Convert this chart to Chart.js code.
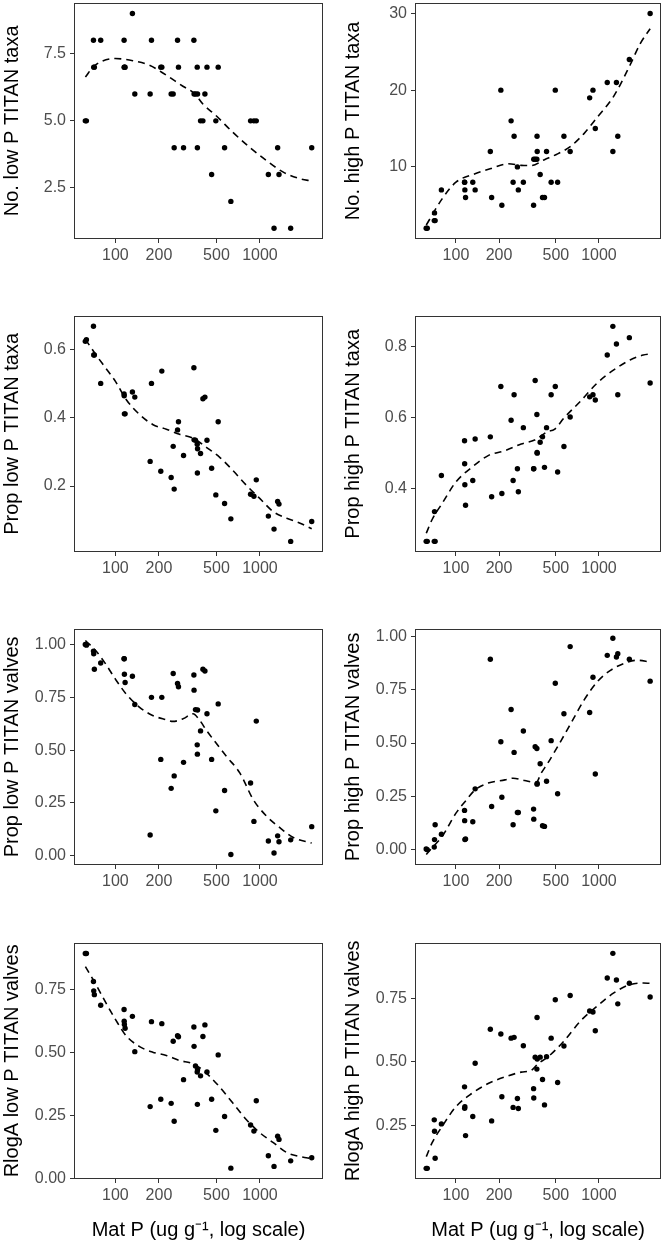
<!DOCTYPE html>
<html>
<head>
<meta charset="utf-8">
<script src="https://cdn.jsdelivr.net/npm/chart.js@4"></script>
<style>
  html, body { margin: 0; padding: 0; background: #ffffff; }
  body { width: 664px; height: 1240px; position: relative; overflow: hidden; }
  canvas { position: absolute; }
</style>
</head>
<body>
<script>
// ---------------- DATA ----------------
// Site Mat P values (ug g-1), shared by all panels
const matP = [61.9, 63.0, 70.5, 70.8, 71.5, 79.1, 114.8, 115, 115.4, 116.7,
  131.1, 136.2, 173.9, 177.6, 206, 209.4, 243, 251, 255, 269,
  273, 296, 349, 350, 358, 368, 369, 370, 388, 403,
  416, 430, 463, 495, 514, 569, 629, 861, 908, 943,
  1143, 1251, 1325, 1354, 1631, 2280];

const noLowTaxa = [5, 5, 8, 7, 7, 8, 8, 7, 7, 7,
  9, 6, 6, 8, 7, 7, 6, 6, 4, 8,
  7, 4, 8, 6, 6, 7, 4, 6, 5, 5,
  6, 7, 3, 5, 7, 4, 2, 5, 5, 5,
  3, 1, 4, 3, 1, 4];

const noHighTaxa = [2, 2, 3, 4, 3, 7, 8, 8, 7, 6,
  8, 7, 12, 6, 20, 5, 16, 8, 14, 10,
  7, 8, 5, 11, 11, 11, 14, 12, 9, 6,
  6, 12, 8, 20, 8, 14, 12, 19, 20, 15,
  21, 12, 21, 14, 24, 30];

const propLowTaxa = [0.623, 0.628, 0.667, 0.583, 0.583, 0.50, 0.469, 0.464, 0.411, 0.411,
  0.475, 0.460, 0.272, 0.50, 0.243, 0.536, 0.225, 0.316, 0.191, 0.364,
  0.388, 0.289, 0.546, 0.335, 0.334, 0.322, 0.238, 0.309, 0.295, 0.455,
  0.46, 0.334, 0.252, 0.174, 0.388, 0.149, 0.104, 0.176, 0.170, 0.218,
  0.112, 0.074, 0.155, 0.147, 0.038, 0.096];

const propHighTaxa = [0.251, 0.251, 0.251, 0.335, 0.251, 0.437, 0.535, 0.470, 0.411, 0.353,
  0.423, 0.540, 0.546, 0.377, 0.688, 0.386, 0.593, 0.423, 0.665, 0.456,
  0.391, 0.572, 0.456, 0.456, 0.705, 0.609, 0.502, 0.50, 0.531, 0.546,
  0.460, 0.572, 0.665, 0.688, 0.447, 0.519, 0.602, 0.659, 0.665, 0.650,
  0.777, 0.858, 0.808, 0.665, 0.826, 0.698];

const propLowValves = [1.0, 0.997, 0.969, 0.956, 0.883, 0.9125, 0.933, 0.933, 0.859, 0.820,
  0.85, 0.716, 0.098, 0.75, 0.456, 0.75, 0.319, 0.8625, 0.378, 0.816,
  0.80, 0.442, 0.856, 0.784, 0.692, 0.525, 0.481, 0.69, 0.591, 0.883,
  0.875, 0.672, 0.456, 0.2125, 0.719, 0.309, 0.006, 0.344, 0.1625, 0.6375,
  0.070, 0.0125, 0.094, 0.066, 0.075, 0.1375];

const propHighValves = [0.003, 0.0, 0.012, 0.047, 0.117, 0.072, 0.184, 0.136, 0.047, 0.05,
  0.131, 0.285, 0.893, 0.202, 0.506, 0.246, 0.657, 0.117, 0.456, 0.174,
  0.174, 0.556, 0.19, 0.143, 0.483, 0.474, 0.307, 0.31, 0.403, 0.112,
  0.109, 0.321, 0.511, 0.780, 0.262, 0.637, 0.952, 0.643, 0.808, 0.355,
  0.911, 0.991, 0.903, 0.919, 0.893, 0.790];

const rlogLowValves = [0.891, 0.891, 0.780, 0.743, 0.728, 0.686, 0.669, 0.623, 0.610, 0.595,
  0.642, 0.502, 0.284, 0.621, 0.313, 0.613, 0.297, 0.543, 0.226, 0.565,
  0.561, 0.391, 0.600, 0.523, 0.445, 0.421, 0.293, 0.43, 0.406, 0.562,
  0.608, 0.421, 0.313, 0.190, 0.489, 0.245, 0.040, 0.211, 0.187, 0.307,
  0.089, 0.047, 0.167, 0.154, 0.069, 0.081];

const rlogHighValves = [0.081, 0.081, 0.272, 0.227, 0.121, 0.256, 0.402, 0.318, 0.324, 0.210,
  0.285, 0.495, 0.629, 0.268, 0.610, 0.363, 0.594, 0.321, 0.597, 0.356,
  0.317, 0.564, 0.395, 0.358, 0.519, 0.472, 0.675, 0.512, 0.519, 0.431,
  0.331, 0.521, 0.594, 0.745, 0.419, 0.563, 0.762, 0.701, 0.697, 0.623,
  0.831, 0.928, 0.823, 0.729, 0.810, 0.756];

// Smoothed (loess) curves
const fitNoLowX = [62, 70.8, 100, 132, 172, 225, 293, 352, 404, 500, 650, 850, 1110, 1450, 1900, 2280];
const fitNoLowY = [6.63, 7.03, 7.32, 7.24, 7.07, 6.70, 6.29, 6.02, 5.62, 5.18, 4.57, 4.01, 3.52, 3.09, 2.84, 2.76];

const fitNoHighX = [62, 80, 100, 136, 177, 232, 286, 336, 416, 514, 630, 786, 973, 1270, 1650, 1940, 2280];
const fitNoHighY = [2.43, 5.83, 8.0, 9.1, 9.8, 10.4, 10.2, 10.17, 10.94, 11.7, 12.64, 14.34, 16.47, 19.23, 23.28, 26.04, 28.0];

const fitPropLowTaxaX = [62, 73.5, 86, 100, 118.6, 147, 181, 225, 278, 344, 426, 527, 651, 806, 1000, 1237, 1530, 1895, 2280];
const fitPropLowTaxaY = [0.629, 0.583, 0.544, 0.506, 0.453, 0.409, 0.380, 0.366, 0.351, 0.340, 0.313, 0.284, 0.245, 0.202, 0.163, 0.125, 0.106, 0.091, 0.075];

const fitPropHighTaxaX = [62, 68, 80, 100, 129, 168, 220, 286, 355, 438, 488, 572, 744, 972, 1270, 1650, 2040, 2280];
const fitPropHighTaxaY = [0.274, 0.312, 0.358, 0.419, 0.460, 0.493, 0.507, 0.526, 0.537, 0.561, 0.567, 0.600, 0.647, 0.698, 0.735, 0.763, 0.777, 0.78];

const fitPropLowValvesX = [62, 73.5, 86, 100, 118.6, 147, 181, 225, 250, 293, 344, 383, 426, 500, 588, 727, 898, 1110, 1372, 1700, 2280];
const fitPropLowValvesY = [1.019, 0.969, 0.906, 0.836, 0.766, 0.703, 0.664, 0.644, 0.636, 0.648, 0.672, 0.641, 0.594, 0.531, 0.469, 0.391, 0.266, 0.1875, 0.133, 0.086, 0.06];

const fitPropHighValvesX = [62, 68, 80, 100, 116, 136, 168, 220, 251, 302, 364, 394, 438, 514, 636, 786, 973, 1204, 1490, 1845, 2280];
const fitPropHighValvesY = [-0.023, 0.008, 0.062, 0.171, 0.226, 0.280, 0.312, 0.327, 0.335, 0.324, 0.315, 0.358, 0.405, 0.483, 0.592, 0.701, 0.787, 0.841, 0.872, 0.888, 0.88];

const fitRlogLowX = [62, 73.5, 86, 100, 118.6, 147, 181, 225, 278, 344, 404, 500, 651, 806, 1000, 1237, 1530, 1895, 2280];
const fitRlogLowY = [0.839, 0.767, 0.695, 0.630, 0.565, 0.522, 0.500, 0.487, 0.467, 0.454, 0.428, 0.376, 0.297, 0.232, 0.180, 0.141, 0.102, 0.086, 0.078];

const fitRlogHighX = [62, 68, 80, 100, 129, 168, 220, 286, 336, 374, 438, 572, 744, 972, 1270, 1650, 2040, 2280];
const fitRlogHighY = [0.127, 0.181, 0.246, 0.324, 0.376, 0.415, 0.441, 0.460, 0.467, 0.493, 0.519, 0.584, 0.662, 0.720, 0.772, 0.805, 0.811, 0.81];

// Tick values and labels
const xTicks = [100, 200, 500, 1000];
const xTickLabels = ['100', '200', '500', '1000'];
const xTitle = 'Mat P (ug g\u207B\u00B9, log scale)';

const yTicksNoLow = [2.5, 5, 7.5];        const yLabelsNoLow = ['2.5', '5.0', '7.5'];
const yTicksNoHigh = [10, 20, 30];        const yLabelsNoHigh = ['10', '20', '30'];
const yTicksPropLowT = [0.2, 0.4, 0.6];   const yLabelsPropLowT = ['0.2', '0.4', '0.6'];
const yTicksPropHighT = [0.4, 0.6, 0.8];  const yLabelsPropHighT = ['0.4', '0.6', '0.8'];
const yTicksValves = [0, 0.25, 0.5, 0.75, 1]; const yLabelsValves = ['0.00', '0.25', '0.50', '0.75', '1.00'];
const yTicksRlogLow = [0, 0.25, 0.5, 0.75];   const yLabelsRlogLow = ['0.00', '0.25', '0.50', '0.75'];
const yTicksRlogHigh = [0.25, 0.5, 0.75];     const yLabelsRlogHigh = ['0.25', '0.50', '0.75'];

// ---------------- PANELS ----------------
const panels = [
  { row: 0, col: 0, title: 'No. low P TITAN taxa', y: noLowTaxa, fx: fitNoLowX, fy: fitNoLowY, ymin: 0.6, ymax: 9.4, yt: yTicksNoLow, yl: yLabelsNoLow },
  { row: 0, col: 1, title: 'No. high P TITAN taxa', y: noHighTaxa, fx: fitNoHighX, fy: fitNoHighY, ymin: 0.6, ymax: 31.4, yt: yTicksNoHigh, yl: yLabelsNoHigh },
  { row: 1, col: 0, title: 'Prop low P TITAN taxa', y: propLowTaxa, fx: fitPropLowTaxaX, fy: fitPropLowTaxaY, ymin: 0.007, ymax: 0.698, yt: yTicksPropLowT, yl: yLabelsPropLowT },
  { row: 1, col: 1, title: 'Prop high P TITAN taxa', y: propHighTaxa, fx: fitPropHighTaxaX, fy: fitPropHighTaxaY, ymin: 0.221, ymax: 0.888, yt: yTicksPropHighT, yl: yLabelsPropHighT },
  { row: 2, col: 0, title: 'Prop low P TITAN valves', y: propLowValves, fx: fitPropLowValvesX, fy: fitPropLowValvesY, ymin: -0.044, ymax: 1.075, yt: yTicksValves, yl: yLabelsValves },
  { row: 2, col: 1, title: 'Prop high P TITAN valves', y: propHighValves, fx: fitPropHighValvesX, fy: fitPropHighValvesY, ymin: -0.072, ymax: 1.036, yt: yTicksValves, yl: yLabelsValves },
  { row: 3, col: 0, title: 'RlogA low P TITAN valves', y: rlogLowValves, fx: fitRlogLowX, fy: fitRlogLowY, ymin: -0.003, ymax: 0.934, yt: yTicksRlogLow, yl: yLabelsRlogLow },
  { row: 3, col: 1, title: 'RlogA high P TITAN valves', y: rlogHighValves, fx: fitRlogHighX, fy: fitRlogHighY, ymin: 0.039, ymax: 0.970, yt: yTicksRlogHigh, yl: yLabelsRlogHigh }
];

const FONT = '"Liberation Sans", Arial, Helvetica, sans-serif';
const rowTops = [1, 314, 627, 941];
const plotH = 238;

const boxPlugin = {
  id: 'panelBox',
  afterDraw(chart) {
    const { ctx, chartArea: a } = chart;
    ctx.save();
    ctx.strokeStyle = '#333333';
    ctx.lineWidth = 1;
    ctx.strokeRect(Math.round(a.left) + 0.5, Math.round(a.top) + 0.5,
      Math.round(a.right - a.left) - 1, Math.round(a.bottom - a.top) - 1);
    ctx.restore();
  }
};

panels.forEach(p => {
  const canvasLeft = p.col === 0 ? 0 : 332;
  const yAxisW = p.col === 0 ? 74 : 83;
  const padRight = p.col === 0 ? 9 : 1;
  const xAxisH = p.row === 3 ? 62 : 40;
  const H = 1 + plotH + xAxisH;
  const cv = document.createElement('canvas');
  cv.width = 332; cv.height = H;
  cv.style.left = canvasLeft + 'px';
  cv.style.top = (rowTops[p.row] - 1) + 'px';
  cv.style.width = '332px'; cv.style.height = H + 'px';
  document.body.appendChild(cv);

  new Chart(cv, {
    type: 'scatter',
    data: {
      datasets: [
        {
          data: matP.map((x, i) => ({ x: x, y: p.y[i] })),
          pointRadius: 2.7, pointHoverRadius: 2.7,
          pointBackgroundColor: '#000', pointBorderWidth: 0,
          backgroundColor: '#000', borderColor: '#000', showLine: false
        },
        {
          data: p.fx.map((x, i) => ({ x: x, y: p.fy[i] })),
          showLine: true, pointRadius: 0, pointHoverRadius: 0,
          borderColor: '#000', borderWidth: 1.6, borderDash: [7, 5],
          cubicInterpolationMode: 'monotone', fill: false
        }
      ]
    },
    options: {
      responsive: false, animation: false, devicePixelRatio: 1,
      events: [],
      layout: { padding: { left: 0, right: padRight, top: 1, bottom: 0 } },
      plugins: { legend: { display: false }, tooltip: { enabled: false }, title: { display: false } },
      scales: {
        x: {
          type: 'logarithmic', min: 51.7, max: 2729,
          afterBuildTicks: s => { s.ticks = xTicks.map(v => ({ value: v })); },
          afterFit: s => { s.height = xAxisH; s.paddingLeft = 0; s.paddingRight = 0; },
          ticks: {
            autoSkip: false, maxRotation: 0, minRotation: 0,
            callback: (v, i) => xTickLabels[i],
            font: { family: FONT, size: 16 }, color: '#4d4d4d', padding: 3
          },
          grid: { display: true, drawOnChartArea: false, drawTicks: true, tickLength: 4, tickColor: '#333333', color: '#333333' },
          border: { display: false },
          title: {
            display: p.row === 3, text: xTitle, color: '#000',
            font: { family: FONT, size: 20, lineHeight: 1 }, padding: { top: 0, bottom: 1 }
          }
        },
        y: {
          type: 'linear', min: p.ymin, max: p.ymax,
          afterBuildTicks: s => { s.ticks = p.yt.map(v => ({ value: v })); },
          afterFit: s => { s.width = yAxisW; s.paddingTop = 0; s.paddingBottom = 0; },
          ticks: {
            autoSkip: false,
            callback: (v, i) => p.yl[i],
            font: { family: FONT, size: 16 }, color: '#4d4d4d', padding: 4
          },
          grid: { display: true, drawOnChartArea: false, drawTicks: true, tickLength: 4, tickColor: '#333333', color: '#333333' },
          border: { display: false },
          title: {
            display: true, text: p.title, color: '#000',
            font: { family: FONT, size: 20, lineHeight: 1 },
            padding: { top: p.col === 0 ? 2.4 : 11, bottom: 0 }
          }
        }
      }
    },
    plugins: [boxPlugin]
  });
});
</script>
</body>
</html>
